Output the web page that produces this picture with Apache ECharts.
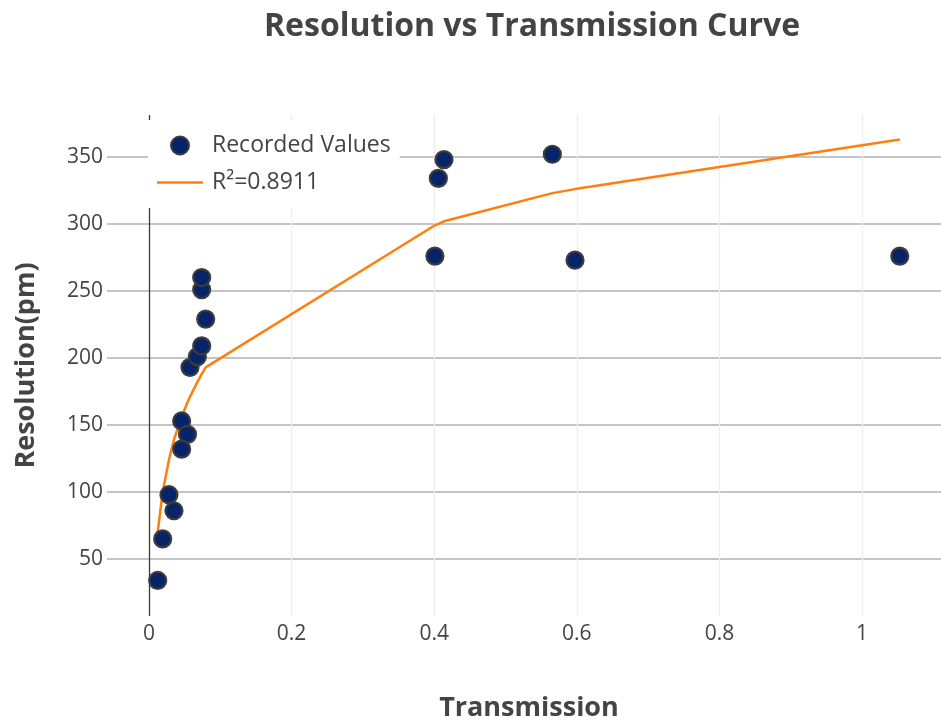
<!DOCTYPE html>
<html>
<head>
<meta charset="utf-8">
<script src="https://cdn.jsdelivr.net/npm/echarts@6/dist/echarts.min.js"></script>
<style>
  html, body { margin: 0; padding: 0; background: #fff; }
  #chart { width: 941px; height: 722px; }
</style>
</head>
<body>
<div id="chart"></div>
<script>
// Measured transmission vs resolution
const transmission = [0.0122, 0.0192, 0.028, 0.035, 0.0458, 0.054, 0.0458, 0.0575, 0.0678, 0.0739, 0.0795, 0.0739, 0.0739, 0.401, 0.4058, 0.4137, 0.5657, 0.5975, 1.053];
const resolution = [34, 65, 98, 86, 153, 143, 132, 193, 201, 209, 229, 251, 260, 276, 334, 348, 352, 273, 276];

// Fitted trend curve, evaluated at the sorted transmission values
const fitX = [0.0122, 0.0192, 0.028, 0.035, 0.0458, 0.054, 0.0575, 0.0678, 0.0739, 0.0795, 0.401, 0.4058, 0.4137, 0.5657, 0.5975, 1.053];
const fitY = [70, 100, 124, 139, 156, 167, 171, 182, 188, 193, 299, 300, 302, 323, 326, 363];

const xTicks = [0, 0.2, 0.4, 0.6, 0.8, 1];
const yTicks = [50, 100, 150, 200, 250, 300, 350];

const seriesNames = ['Recorded Values', 'R²=0.8911'];

const FONT = '"Open Sans", "Noto Sans", sans-serif';
const TEXT = '#444';
const CLEAR = 'rgba(0,0,0,0)';

const chart = echarts.init(document.getElementById('chart'), null, { renderer: 'canvas' });

const scatterData = transmission.map((x, i) => [x, resolution[i]]);
const fitData = fitX.map((x, i) => [x, fitY[i]]);

const onTick = (list, v) => list.some(t => Math.abs(t - v) < 1e-6);

// Split-line colours cycle per tick: boundary ticks hidden, the x = 0 line dark
const yLineColors = [CLEAR].concat(yTicks.map(() => '#c4c4c4'), [CLEAR]);
const xLineColors = [CLEAR].concat(xTicks.map(t => (t === 0 ? '#3a3a3a' : '#eeeeee')), [CLEAR]);

chart.setOption({
  animation: false,
  backgroundColor: '#fff',
  title: {
    text: 'Resolution vs Transmission Curve',
    left: 527,
    textAlign: 'center',
    top: 6,
    textStyle: { fontFamily: FONT, fontWeight: 'bold', fontSize: 32, color: TEXT }
  },
  legend: {
    orient: 'vertical',
    left: 148,
    top: 120,
    padding: [14, 9, 14, 9],
    backgroundColor: '#fff',
    itemWidth: 46,
    itemHeight: 18,
    itemGap: 14,
    data: [
      { name: seriesNames[0], icon: 'circle' },
      { name: seriesNames[1], icon: 'path://M0,0 H46 V2.5 H0 Z' }
    ],
    textStyle: { fontFamily: FONT, fontSize: 23, color: TEXT, lineHeight: 22, padding: [0, 0, 0, 4] }
  },
  grid: {
    left: 107,
    right: 0,
    top: 115,
    bottom: 106,
    containLabel: false,
    outerBoundsMode: 'none'
  },
  xAxis: {
    type: 'value',
    min: -0.0589,
    max: 1.1108,
    splitNumber: 6,
    name: 'Transmission',
    nameLocation: 'middle',
    nameGap: 79,
    nameTextStyle: { fontFamily: FONT, fontWeight: 'bold', fontSize: 27, color: TEXT, padding: [0, 0, 0, 10] },
    axisLine: { show: false },
    axisTick: { show: false },
    axisLabel: {
      showMinLabel: false,
      showMaxLabel: false,
      margin: 8,
      fontFamily: FONT,
      fontSize: 21,
      color: TEXT,
      formatter: v => (onTick(xTicks, v) ? String(+v.toFixed(1)) : '')
    },
    splitLine: { show: true, lineStyle: { color: xLineColors, width: 1.3 } }
  },
  yAxis: {
    type: 'value',
    min: 7.46,
    max: 381.3,
    splitNumber: 7,
    name: 'Resolution(pm)',
    nameLocation: 'middle',
    nameGap: 67,
    nameTextStyle: { fontFamily: FONT, fontWeight: 'bold', fontSize: 27, color: TEXT },
    axisLine: { show: false },
    axisTick: { show: false },
    axisLabel: {
      showMinLabel: false,
      showMaxLabel: false,
      margin: 4,
      fontFamily: FONT,
      fontSize: 21,
      color: TEXT,
      formatter: v => (onTick(yTicks, v) ? String(Math.round(v)) : '')
    },
    splitLine: { show: true, lineStyle: { color: yLineColors, width: 2 } }
  },
  series: [
    {
      name: seriesNames[0],
      type: 'scatter',
      data: scatterData,
      symbol: 'circle',
      symbolSize: 17,
      itemStyle: { color: '#062467', borderColor: '#3c3c3c', borderWidth: 2.2, opacity: 1 },
      z: 3
    },
    {
      name: seriesNames[1],
      type: 'line',
      data: fitData,
      symbol: 'none',
      showSymbol: false,
      lineStyle: { color: '#ff7f0e', width: 2.5 },
      itemStyle: { color: '#ff7f0e' },
      z: 2
    }
  ]
});
</script>
</body>
</html>
